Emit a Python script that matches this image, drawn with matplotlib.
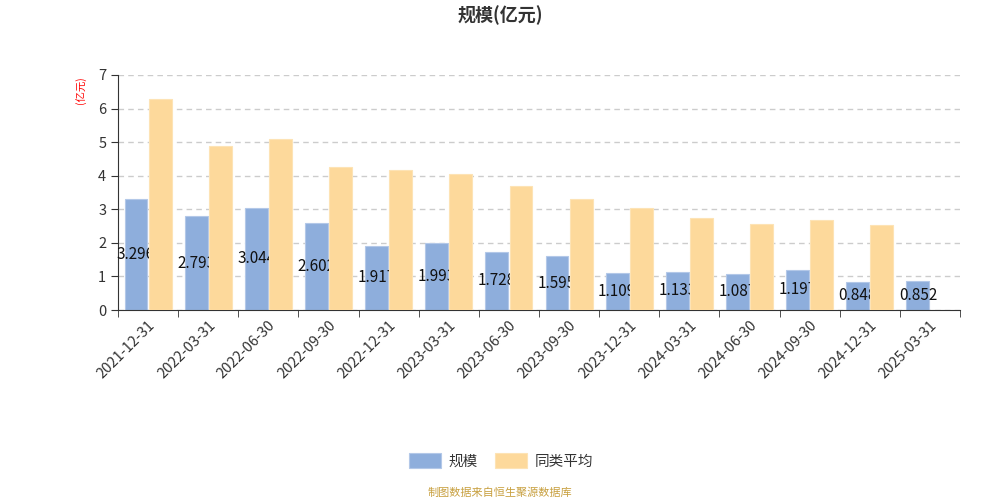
import numpy as np
import matplotlib
matplotlib.use("Agg")
import matplotlib.pyplot as plt

plt.rcParams['font.family'] = ['Noto Sans CJK SC', 'DejaVu Sans']

dates = ["2021-12-31", "2022-03-31", "2022-06-30", "2022-09-30", "2022-12-31",
         "2023-03-31", "2023-06-30", "2023-09-30", "2023-12-31", "2024-03-31",
         "2024-06-30", "2024-09-30", "2024-12-31", "2025-03-31"]
scale = [3.296, 2.793, 3.044, 2.602, 1.917, 1.993, 1.728, 1.595, 1.109, 1.133,
         1.087, 1.197, 0.848, 0.852]
peer_avg = [6.30, 4.90, 5.09, 4.26, 4.18, 4.06, 3.70, 3.30, 3.03, 2.73,
            2.55, 2.69, 2.53, np.nan]

blue = "#8eaedc"
orange = "#fdd99b"

fig = plt.figure(figsize=(10, 5), dpi=100)
ax = fig.add_axes([0.118, 0.38, 0.842, 0.47])

x = np.arange(len(dates))
w = 0.38
ax.bar(x - 0.2, scale, w, color=blue, edgecolor="#b3c8e8", linewidth=0.8, zorder=2, label="规模")
ax.bar(x + 0.2, peer_avg, w, color=orange, edgecolor="#fde3b5", linewidth=0.8, zorder=4, label="同类平均")

# labels sit under the orange bars, like the original
for i, v in enumerate(scale):
    ax.text(x[i] - 0.2, v / 2, f"{v:.3f}", ha="center", va="center",
            fontsize=11, color="#111111", zorder=3)

ax.set_xlim(-0.5, len(dates) - 0.5)
ax.set_ylim(0, 7)
ax.set_yticks(range(0, 8))
ax.yaxis.grid(True, linestyle=(0, (4, 3)), color="#cccccc", linewidth=1)
ax.set_axisbelow(True)

ax.set_xticks(x)
ax.set_xticklabels(dates, rotation=45, ha="right", rotation_mode="anchor",
                   fontsize=10.5, color="#333333")
ax.set_xticks(np.arange(-0.5, len(dates), 1), minor=True)
ax.tick_params(axis="x", which="major", length=0, pad=6)
ax.tick_params(axis="x", which="minor", length=5, color="#333333")
ax.tick_params(axis="y", labelsize=10.5, colors="#333333", length=5)

for s in ["top", "right"]:
    ax.spines[s].set_visible(False)
ax.spines["left"].set_color("#333333")
ax.spines["bottom"].set_color("#333333")

fig.text(0.5, 0.97, "规模(亿元)", ha="center", va="center", fontsize=13,
         fontweight="bold", color="#333333")
fig.text(0.081, 0.82, "(亿元)", ha="center", va="center", fontsize=7.5,
         color="red", rotation=90)

leg = ax.legend(loc="upper center", bbox_to_anchor=(0.455, -0.553), ncol=2,
                frameon=False, fontsize=10.5, handlelength=2.2, handleheight=1.2,
                columnspacing=1.2, handletextpad=0.5)
for t in leg.get_texts():
    t.set_color("#333333")

fig.text(0.5, 0.014, "制图数据来自恒生聚源数据库", ha="center", va="center",
         fontsize=8, color="#c8a040")

fig.savefig("out.png", dpi=100)
